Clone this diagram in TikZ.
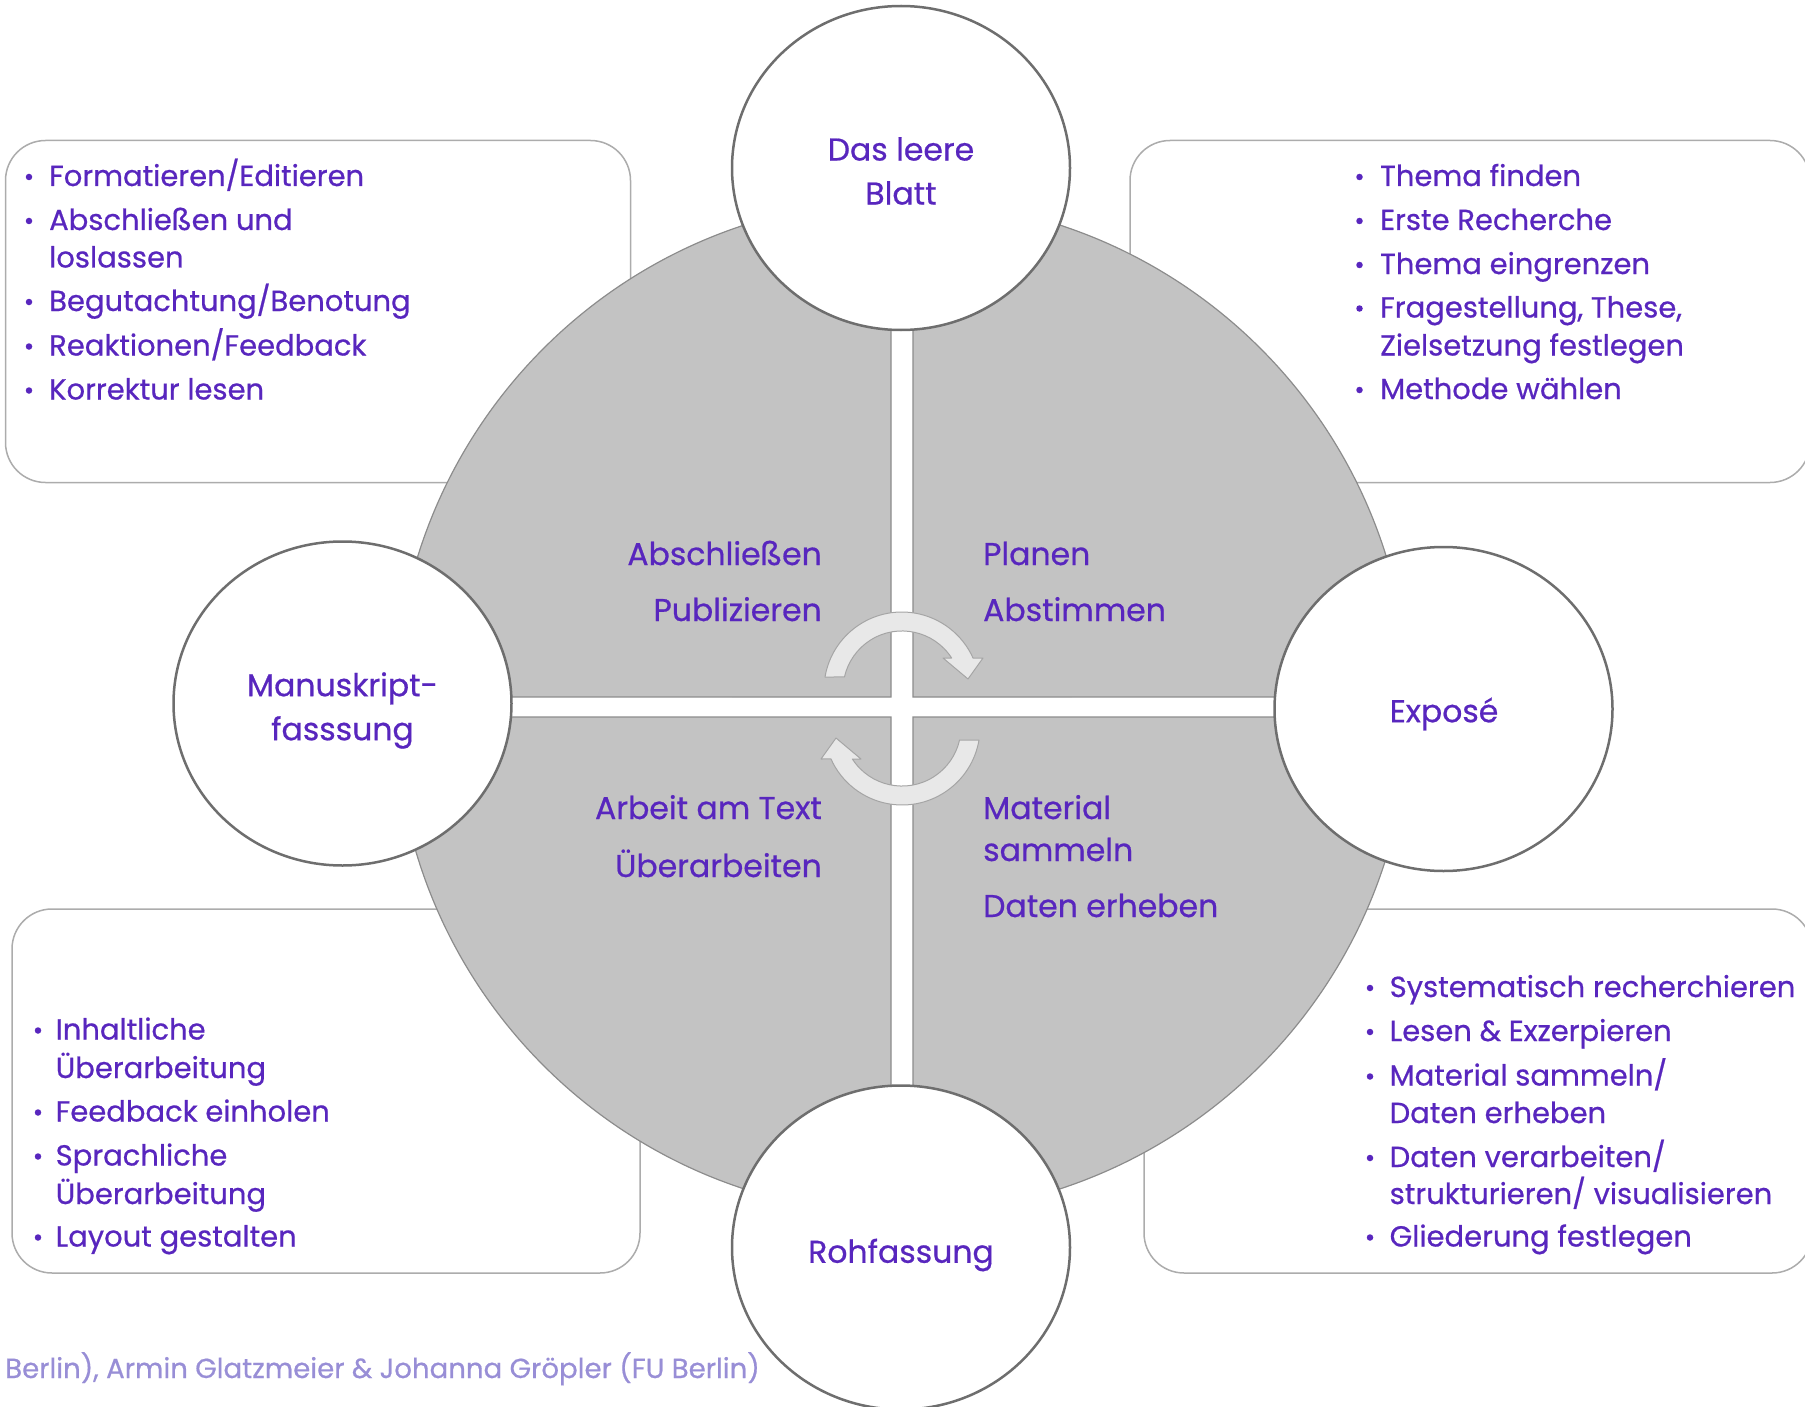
\documentclass[tikz,border=0pt]{standalone}
\usepackage{fontspec}
\setmainfont{Poppins}[FakeBold=0.6]
\usetikzlibrary{shapes.geometric}

\definecolor{ink}{RGB}{88,38,190}
\definecolor{footink}{RGB}{152,142,214}
\definecolor{diskgray}{RGB}{195,195,195}
\definecolor{diskedge}{RGB}{140,140,140}
\definecolor{ringedge}{RGB}{110,110,110}
\definecolor{boxedge}{RGB}{172,172,172}
\definecolor{arrowfill}{RGB}{232,232,232}
\definecolor{arrowedge}{RGB}{165,165,165}

\tikzset{
  panel/.style={rectangle, draw=boxedge, line width=1.5pt, rounded corners=40pt,
    fill=white, inner sep=0pt},
  quad/.style={fill=diskgray, draw=diskedge, line width=1.2pt},
  stage/.style={ellipse, draw=ringedge, line width=2.5pt, fill=white,
    minimum width=338pt, minimum height=324pt, inner sep=0pt},
  stagetext/.style={text=ink, font=\fontsize{31.5}{44}\selectfont, inner sep=0pt,
    align=center},
  lbl/.style={text=ink, font=\fontsize{31.5}{38}\selectfont, inner sep=0pt},
  item/.style={text=ink, font=\fontsize{29}{35}\selectfont, inner sep=0pt,
    anchor=base west},
  dot/.style={circle, fill=ink, minimum size=6.5pt, inner sep=0pt},
  cycarrow/.style={fill=arrowfill, draw=arrowedge, line width=1pt, line join=round},
  foot/.style={text=footink, font=\fontsize{27.6}{34}\selectfont, inner sep=0pt,
    anchor=base west}
}

% one curved arrow of the central cycle (upper half, turning clockwise)
\newcommand\cyclearrow{%
  \path[cycarrow] (825,677) arc[start angle=-170.4, end angle=-24.2, radius=78]
    -- (983,658) -- (968,679) -- (943,658) -- (951.6,658)
    arc[start angle=-32.8, end angle=-167.3, radius=59] -- cycle;}

% bullet entry: name, bullet x, text x, baseline y, text
\newcommand\entry[5]{%
  \node[dot] (#1dot) at (#2,#4-9) {};
  \node[item] (#1) at (#3,#4) {#5};}
% continuation line: name, text x, baseline y, text
\newcommand\contline[4]{\node[item] (#1) at (#2,#3) {#4};}

\begin{document}
\begin{tikzpicture}[x=1pt,y=-1pt]
\useasboundingbox (0,0) rectangle (1805,1407);

% corner panels
\node[panel, minimum width=625pt, minimum height=342pt] (tlbox) at (318,311.5) {};
\node[panel, minimum width=680pt, minimum height=342pt] (trbox) at (1470,311.5) {};
\node[panel, minimum width=628pt, minimum height=364pt] (blbox) at (326,1091) {};
\node[panel, minimum width=668pt, minimum height=364pt] (brbox) at (1478,1091) {};

% central disc, split into four quadrants
\begin{scope}[shift={(902,707)}]
  \foreach \sx/\sy in {1/1,-1/1,1/-1,-1/-1}{
    \begin{scope}[xscale=\sx, yscale=\sy]
      \path[quad] (-11,-10) -- (-11,-506.88)
        arc[start angle=268.76, end angle=181.13, radius=507] -- cycle;
    \end{scope}
  }
\end{scope}

% cycle arrows in the middle
\cyclearrow
\begin{scope}[rotate around={180:(902,708.5)}]
  \cyclearrow
\end{scope}

% the four stages
\node[stage] (blatt) at (901,168) {};
\node[stage] (manus) at (342.5,703.5) {};
\node[stage] (expose) at (1443.5,709) {};
\node[stage] (roh) at (901,1247.5) {};
\node[stagetext] (blatttext) at (901,171) {Das leere\\Blatt};
\node[stagetext] (manustext) at (342.5,710.5) {Manuskript-\\fasssung};
\node[stagetext] (exposetext) at (1444,714) {Exposé};
\node[stagetext] (rohtext) at (901,1255) {Rohfassung};

% quadrant labels
\node[lbl, anchor=base east] (qa1) at (822,565) {Abschließen};
\node[lbl, anchor=base east] (qa2) at (822,621) {Publizieren};
\node[lbl, anchor=base west] (qb1) at (983,565) {Planen};
\node[lbl, anchor=base west] (qb2) at (983,621) {Abstimmen};
\node[lbl, anchor=base east] (qc1) at (822,819) {Arbeit am Text};
\node[lbl, anchor=base east] (qc2) at (822,877) {Überarbeiten};
\node[lbl, anchor=base west] (qd1) at (983,819) {Material};
\node[lbl, anchor=base west] (qd2) at (983,861) {sammeln};
\node[lbl, anchor=base west] (qd3) at (983,917) {Daten erheben};

% top left list
\entry{tla}{29}{49}{186}{Formatieren/Editieren}
\entry{tlb}{29}{49}{230}{Abschließen und}
\contline{tlbc}{49}{267.5}{loslassen}
\entry{tlc}{29}{49}{311}{Begutachtung/Benotung}
\entry{tld}{29}{49}{355.5}{Reaktionen/Feedback}
\entry{tle}{29}{49}{399.5}{Korrektur lesen}

% top right list
\entry{tra}{1359.5}{1380}{186}{Thema finden}
\entry{trb}{1359.5}{1380}{230}{Erste Recherche}
\entry{trc}{1359.5}{1380}{274}{Thema eingrenzen}
\entry{trd}{1359.5}{1380}{317.5}{Fragestellung, These,}
\contline{trdc}{1380}{355.5}{Zielsetzung festlegen}
\entry{tre}{1359.5}{1380}{399}{Methode wählen}

% bottom left list
\entry{bla}{38}{55.5}{1039.5}{Inhaltliche}
\contline{blac}{55.5}{1078}{Überarbeitung}
\entry{blb}{38}{55.5}{1121.5}{Feedback einholen}
\entry{blc}{38}{55.5}{1165.5}{Sprachliche}
\contline{blcc}{55.5}{1204}{Überarbeitung}
\entry{bld}{38}{55.5}{1246.5}{Layout gestalten}

% bottom right list
\entry{bra}{1370}{1389.5}{997}{Systematisch recherchieren}
\entry{brb}{1370}{1389.5}{1041}{Lesen \& Exzerpieren}
\entry{brc}{1370}{1389.5}{1085.5}{Material sammeln/}
\contline{brcc}{1389.5}{1123}{Daten erheben}
\entry{brd}{1370}{1389.5}{1167}{Daten verarbeiten/}
\contline{brdc}{1389.5}{1204}{strukturieren/ visualisieren}
\entry{bre}{1370}{1389.5}{1246.5}{Gliederung festlegen}

% credit line
\node[foot] (credit) at (5,1378) {Berlin), Armin Glatzmeier \& Johanna Gröpler (FU Berlin)};
\end{tikzpicture}
\end{document}
